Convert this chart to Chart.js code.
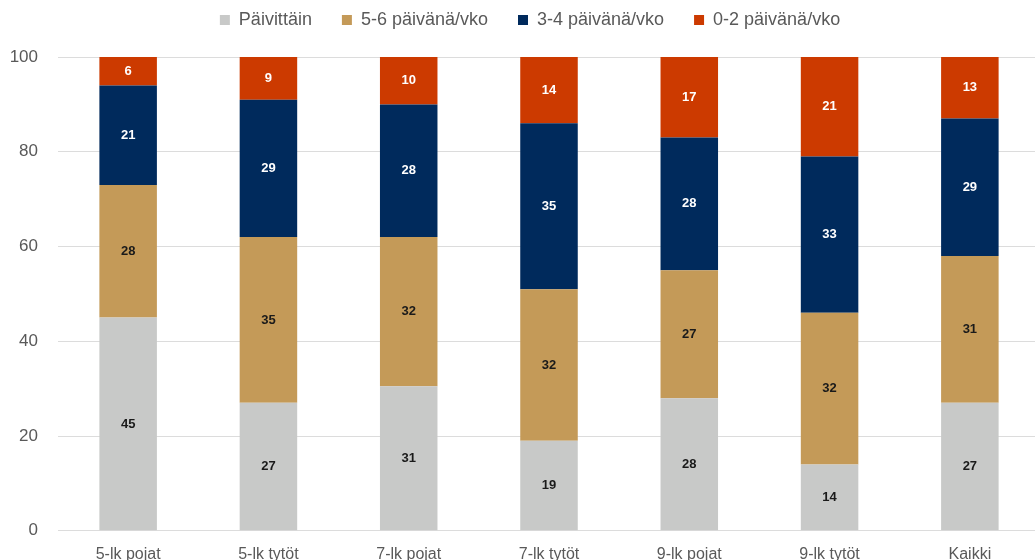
<!DOCTYPE html>
<html>
<head>
<meta charset="utf-8">
<script src="https://cdn.jsdelivr.net/npm/chart.js@4"></script>
<style>
  html, body { margin: 0; padding: 0; background: #fff; overflow: hidden; }
  #wrap { width: 1040px; height: 570px; position: relative; }
</style>
</head>
<body>
<div id="wrap"><canvas id="chart"></canvas></div>
<script>
// Categories and series (percent)
const categories = ['5-lk pojat', '5-lk tytöt', '7-lk pojat', '7-lk tytöt', '9-lk pojat', '9-lk tytöt', 'Kaikki'];
const daily    = [45, 27, 30.5, 19, 28, 14, 27];
const days56   = [28, 35, 31.5, 32, 27, 32, 31];
const days34   = [21, 29, 28, 35, 28, 33, 29];
const days02   = [6, 9, 10, 14, 17, 21, 13];
const yTicks   = [0, 20, 40, 60, 80, 100];

const FONT = '"Liberation Sans", Arial, sans-serif';

// Simple value labels in the middle of each bar segment
const barLabels = {
    id: 'barLabels',
    afterDatasetsDraw(chart) {
        const ctx = chart.ctx;
        ctx.save();
        ctx.font = 'bold 13px ' + FONT;
        ctx.textAlign = 'center';
        ctx.textBaseline = 'middle';
        chart.data.datasets.forEach((ds, i) => {
            const meta = chart.getDatasetMeta(i);
            meta.data.forEach((bar, j) => {
                const p = bar.getProps(['x', 'y', 'base'], true);
                ctx.fillStyle = ds.labelColor;
                ctx.fillText(Math.round(ds.data[j]), p.x, (p.y + p.base) / 2);
            });
        });
        ctx.restore();
    }
};

// Extra room under the legend, and nudge it a bit to the right
const legendTweak = {
    id: 'legendTweak',
    beforeLayout(chart) {
        const lg = chart.legend;
        if (lg && !lg._tweaked) {
            const fit = lg.fit;
            lg.fit = function () { fit.call(this); this.height += 18; };
            lg._tweaked = true;
        }
    },
    afterLayout(chart) {
        chart.legend.left += 10;
        chart.legend.right += 10;
    }
};

new Chart(document.getElementById('chart'), {
    type: 'bar',
    data: {
        labels: categories,
        datasets: [
            { label: 'Päivittäin', data: daily, backgroundColor: '#c8c9c8', labelColor: '#1a1a1a' },
            { label: '5-6 päivänä/vko', data: days56, backgroundColor: '#c49a58', labelColor: '#1a1a1a' },
            { label: '3-4 päivänä/vko', data: days34, backgroundColor: '#002a5c', labelColor: '#ffffff' },
            { label: '0-2 päivänä/vko', data: days02, backgroundColor: '#cc3a00', labelColor: '#ffffff' }
        ]
    },
    options: {
        responsive: true,
        maintainAspectRatio: false,
        animation: false,
        layout: { padding: { top: -19, left: 0, right: 0, bottom: 0 } },
        datasets: { bar: { categoryPercentage: 1, barPercentage: 0.41 } },
        scales: {
            x: {
                stacked: true,
                grid: { display: false },
                border: { display: false },
                ticks: { color: '#595959', font: { family: FONT, size: 16 }, padding: 6 }
            },
            y: {
                stacked: true,
                min: 0,
                max: 100,
                afterBuildTicks: axis => { axis.ticks = yTicks.map(v => ({ value: v })); },
                afterFit: axis => { axis.width = 58; },
                grid: { color: '#dcdcdc', drawTicks: false },
                border: { display: false },
                ticks: { color: '#595959', font: { family: FONT, size: 17 }, padding: 20 }
            }
        },
        plugins: {
            legend: {
                position: 'top',
                labels: {
                    color: '#595959',
                    font: { family: FONT, size: 18 },
                    boxWidth: 10,
                    boxHeight: 10,
                    padding: 30
                }
            },
            tooltip: { enabled: false }
        }
    },
    plugins: [barLabels, legendTweak]
});
</script>
</body>
</html>
